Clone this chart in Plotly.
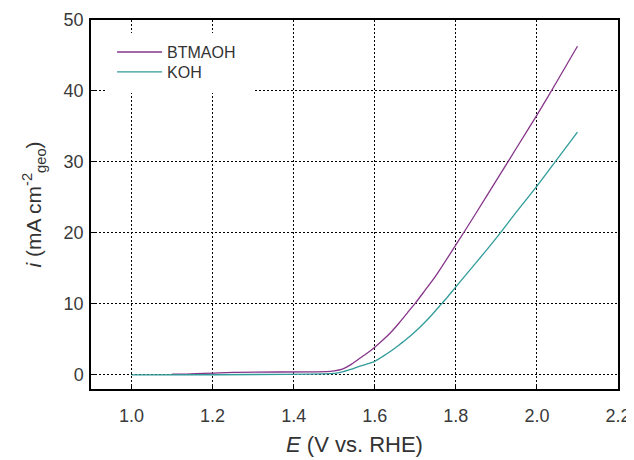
import plotly.graph_objects as go

# Data
e_btmaoh = [1.10, 1.13, 1.25, 1.48, 1.50, 1.52, 1.54, 1.56, 1.58, 1.60, 1.62, 1.64,
            1.66, 1.68, 1.70, 1.72, 1.75, 1.80, 1.85, 1.90, 1.95, 2.00, 2.05, 2.10]
i_btmaoh = [0.1, 0.1, 0.35, 0.45, 0.55, 0.8, 1.4, 2.2, 3.0, 3.9, 4.9, 6.0,
            7.3, 8.7, 10.1, 11.6, 13.9, 18.3, 22.8, 27.4, 32.0, 36.6, 41.4, 46.3]

e_koh = [1.00, 1.50, 1.52, 1.54, 1.56, 1.58, 1.60, 1.62, 1.64, 1.66, 1.68, 1.70,
         1.72, 1.74, 1.76, 1.78, 1.80, 1.85, 1.90, 1.95, 2.00, 2.05, 2.10]
i_koh = [0.0, 0.2, 0.4, 0.75, 1.15, 1.5, 1.9, 2.6, 3.35, 4.2, 5.1, 6.1,
         7.2, 8.4, 9.7, 11.0, 12.4, 15.8, 19.3, 23.0, 26.6, 30.4, 34.2]

x_ticks = [1.0, 1.2, 1.4, 1.6, 1.8, 2.0, 2.2]
x_tick_labels = ["1.0", "1.2", "1.4", "1.6", "1.8", "2.0", "2.2"]
y_ticks = [0, 10, 20, 30, 40, 50]
y_tick_labels = ["0", "10", "20", "30", "40", "50"]

fig = go.Figure()
fig.add_trace(go.Scatter(x=e_btmaoh, y=i_btmaoh, mode="lines", name="BTMAOH", legend="legend",
                         line=dict(color="#86358a", width=1.3, shape="spline", smoothing=0.6)))
fig.add_trace(go.Scatter(x=e_koh, y=i_koh, mode="lines", name="KOH", legend="legend2",
                         line=dict(color="#2f9c9a", width=1.3, shape="spline", smoothing=0.6)))

axis_font = dict(family="Liberation Sans, Arial, sans-serif", size=18, color="#3a3a3a")
leg_font = dict(family="Liberation Sans, Arial, sans-serif", size=16, color="#333333")

fig.update_layout(
    width=634, height=460,
    margin=dict(l=83, r=24, t=12, b=79, autoexpand=False),
    plot_bgcolor="white", paper_bgcolor="white",
    font=dict(family="Liberation Sans, Arial, sans-serif", color="#3a3a3a"),
    showlegend=True,
    legend=dict(x=0.04, y=0.913, xanchor="left", yanchor="middle",
                bgcolor="rgba(0,0,0,0)", borderwidth=0, font=leg_font, itemwidth=45),
    legend2=dict(x=0.04, y=0.859, xanchor="left", yanchor="middle",
                 bgcolor="rgba(0,0,0,0)", borderwidth=0, font=leg_font, itemwidth=45),
    shapes=[dict(type="rect", xref="paper", yref="paper",
                 x0=0.030, x1=0.311, y0=0.802, y1=0.965,
                 fillcolor="white", line=dict(width=0), layer="above")],
    xaxis=dict(range=[0.9, 2.2], tickvals=x_ticks, ticktext=x_tick_labels,
               showgrid=True, gridcolor="black", gridwidth=1.3, griddash="2px,2px",
               zeroline=False, showline=True, linecolor="black", linewidth=1.5,
               mirror=True, ticks="inside", ticklen=5, tickcolor="black",
               tickfont=axis_font, ticklabelstandoff=10,
               title=dict(text="<i>E</i> (V vs. RHE)", font=dict(size=22, color="#333333"),
                          standoff=11)),
    yaxis=dict(range=[-2, 50], tickvals=y_ticks, ticktext=y_tick_labels,
               showgrid=True, gridcolor="black", gridwidth=1.3, griddash="2px,2px",
               zeroline=False, showline=True, linecolor="black", linewidth=1.5,
               mirror=True, ticks="inside", ticklen=5, tickcolor="black",
               tickfont=axis_font, ticklabelstandoff=2,
               title=dict(text="<i>i</i> (mA cm<sup>-2</sup><sub>geo</sub>)",
                          font=dict(size=21, color="#333333"), standoff=16)),
)

fig.write_html("out.html")
